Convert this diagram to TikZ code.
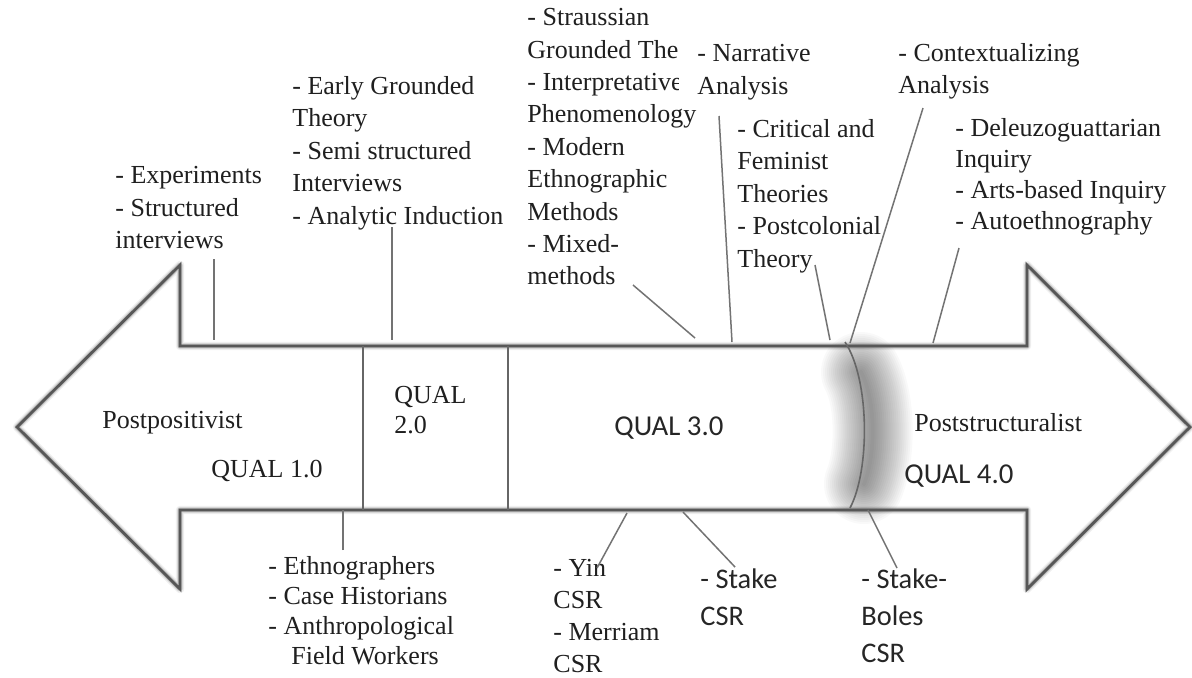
\documentclass[tikz,border=0pt]{standalone}
\usepackage{fontspec}
\setmainfont{Liberation Serif}
\newfontfamily\calib{Carlito}
\begin{document}
\begin{tikzpicture}[x=0.5pt,y=-0.5pt,
  outline/.style={draw=black!66, line width=1.4pt, line join=miter},
  halo/.style={draw=black, line join=round},
  leader/.style={draw=black!55, line width=0.75pt},
  serif/.style={font=\fontsize{13}{16.2}\selectfont, text=black!88, inner sep=0pt, align=left},
  sans/.style={font=\calib\fontsize{14.2}{18.5}\selectfont, text=black!85, inner sep=0pt, align=left}]
\useasboundingbox (0,0) rectangle (1192,677);
\fill[white] (0,0) rectangle (1192,677);

% double arrow outline with a soft halo
\def\arrowpath{(17,427) -- (180,265) -- (180,346) -- (1027,346) -- (1027,265) -- (1190,427) -- (1027,589) -- (1027,510) -- (180,510) -- (180,589) -- cycle}
\fill[white] \arrowpath;
\draw[halo, line width=4.2pt, opacity=0.06] \arrowpath;
\draw[halo, line width=3.0pt, opacity=0.09] \arrowpath;
\draw[halo, line width=2.2pt, opacity=0.12] \arrowpath;

% soft shadow around the curved boundary of QUAL 4.0
\foreach \w in {2,4,...,40}
  \draw[black, line width=\w pt, opacity=0.024, line cap=round]
    (861,372) .. controls (876,400) and (876,455) .. (864,484);

\draw[outline] \arrowpath;

% era dividers
\coordinate (d1t) at (363,346); \coordinate (d1b) at (363,510);
\coordinate (d2t) at (508,346); \coordinate (d2b) at (508,510);
\coordinate (d3t) at (845,342); \coordinate (d3b) at (850,508);
\draw[leader, draw=black!60, line width=0.8pt] (d1t) -- (d1b);
\draw[leader, draw=black!60, line width=0.8pt] (d2t) -- (d2b);
\draw[leader, draw=black!60, line width=0.8pt] (d3t) .. controls (870,380) and (870,470) .. (d3b);

% labels inside the arrow
\node[serif, anchor=west] (pp) at (102,423) {Postpositivist};
\node[serif, anchor=west] (q1) at (211,471) {QUAL 1.0};
\node[serif, anchor=north west, font=\fontsize{13}{15}\selectfont] (q2) at (394,386) {QUAL\\2.0};
\node[sans, anchor=west, font=\calib\fontsize{14.4}{18}\selectfont] (q3) at (614,428) {QUAL 3.0};
\node[serif, anchor=west] (ps) at (914,423) {Poststructuralist};
\node[sans, anchor=west, font=\calib\fontsize{14.4}{18}\selectfont] (q4) at (904,476) {QUAL 4.0};

% upper method lists
\node[serif, anchor=north west] (t1) at (115,166) {- Experiments\\- Structured\\interviews};
\node[serif, anchor=north west] (t2) at (292,76) {- Early Grounded\\Theory\\- Semi structured\\Interviews\\- Analytic Induction};
\begin{scope}
  % the list runs under the neighbouring column and is cut off there
  \clip (500,0) -- (678,0) -- (678,100) -- (720,100) -- (720,320) -- (500,320) -- cycle;
  \node[serif, anchor=north west] (t3) at (527,8) {- Straussian\\Grounded The\\- Interpretative\\Phenomenology\\- Modern\\Ethnographic\\Methods\\- Mixed-\\methods};
\end{scope}
\node[serif, anchor=north west] (t4) at (697,44) {- Narrative\\Analysis};
\node[serif, anchor=north west] (t5) at (737,119) {- Critical and\\Feminist\\Theories\\- Postcolonial\\Theory};
\node[serif, anchor=north west] (t6) at (898,43) {- Contextualizing\\Analysis};
\node[serif, anchor=north west, font=\fontsize{13}{15.5}\selectfont] (t7) at (955,118) {- Deleuzoguattarian\\Inquiry\\- Arts-based Inquiry\\- Autoethnography};

% lower method lists
\node[serif, anchor=north west, font=\fontsize{13}{15}\selectfont] (b1) at (268,556) {- Ethnographers\\- Case Historians\\- Anthropological\\\hspace*{11.5pt}Field Workers};
\node[serif, anchor=north west, font=\fontsize{13}{16}\selectfont] (b2) at (553,559) {- Yin\\CSR\\- Merriam\\CSR};
\node[sans, anchor=north west] (b3) at (700,568) {- Stake\\CSR};
\node[sans, anchor=north west] (b4) at (861,568) {- Stake-\\Boles\\CSR};

% leader lines from lists to the arrow
\coordinate (a1) at (214,259); \coordinate (e1) at (214,340);
\coordinate (a2) at (392,227); \coordinate (e2) at (392,340);
\coordinate (a3) at (633,285); \coordinate (e3) at (695,338);
\coordinate (a4) at (719,116); \coordinate (e4) at (732,342);
\coordinate (a5) at (815,265); \coordinate (e5) at (830,340);
\coordinate (a6) at (923,108); \coordinate (e6) at (850,343);
\coordinate (a7) at (959,248); \coordinate (e7) at (933,343);
\coordinate (a8) at (343,550); \coordinate (e8) at (343,510);
\coordinate (a9) at (597,568); \coordinate (e9) at (627,513);
\coordinate (a10) at (735,567); \coordinate (e10) at (683,512);
\coordinate (a11) at (897,568); \coordinate (e11) at (868,510);
\foreach \i in {1,...,11}
  \draw[leader] (a\i) -- (e\i);
\end{tikzpicture}
\end{document}
